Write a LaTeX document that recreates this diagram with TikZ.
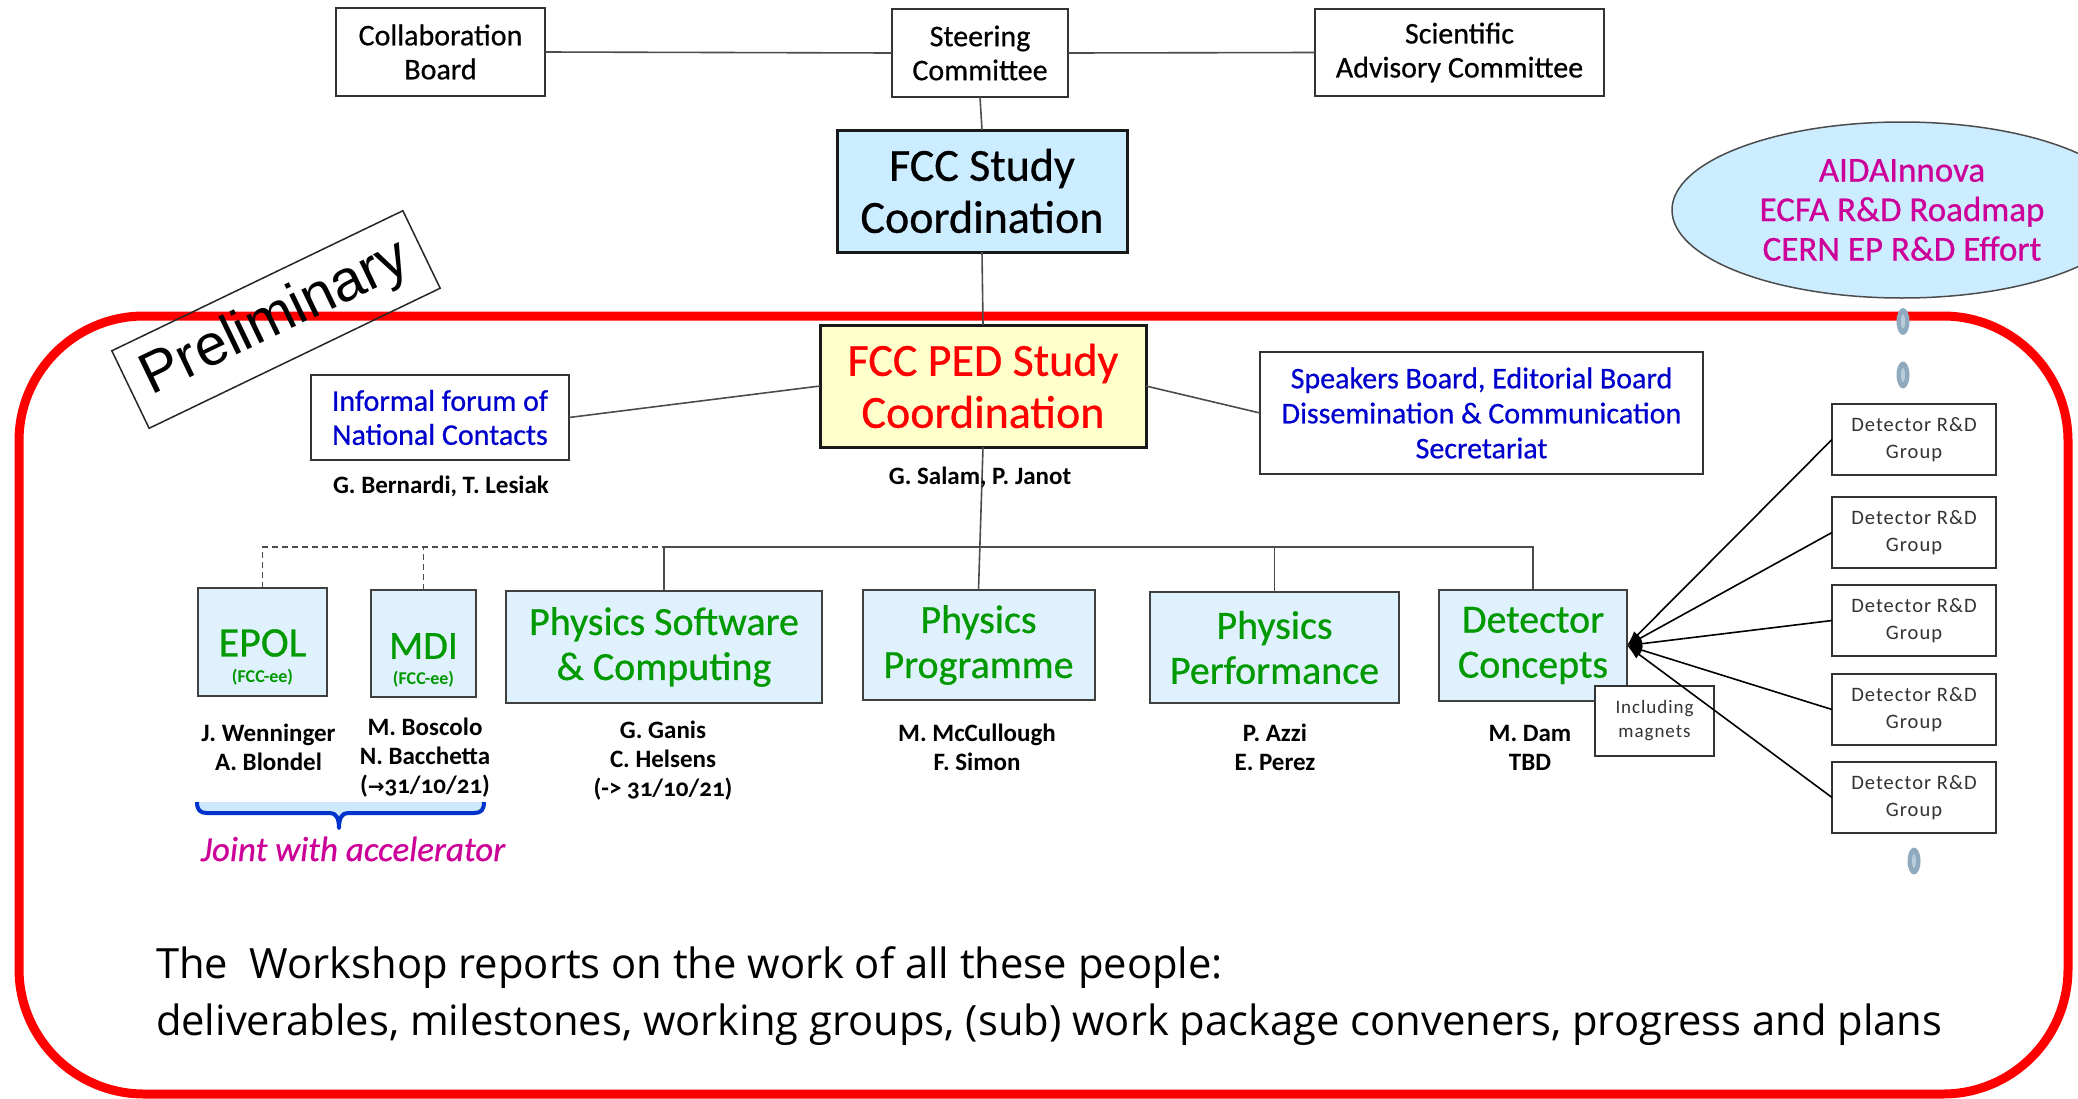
\documentclass[tikz,border=0pt]{standalone}
\usepackage{fontspec}
\setmainfont{Carlito}
\newfontfamily\heavy[FakeBold=0.6]{Carlito}
\newfontfamily\opensans{Open Sans}
\newfontfamily\arialfont{Liberation Sans}
\newfontfamily\arrowfont{DejaVu Sans}
\newfontfamily\spacedfont[LetterSpace=5]{Carlito}
\newfontfamily\oldnumfont[Numbers=OldStyle]{Carlito}
\usetikzlibrary{arrows.meta,shapes.geometric}
\newcommand\fsz[2]{\fontsize{#1}{#2}\selectfont}

\definecolor{txtgreen}{RGB}{0,153,0}
\definecolor{txtblue}{RGB}{0,0,204}
\definecolor{txtmag}{RGB}{204,0,153}
\definecolor{braceblue}{RGB}{0,51,204}
\definecolor{bracefill}{RGB}{204,232,250}
\definecolor{studyfill}{RGB}{204,236,255}
\definecolor{unitfill}{RGB}{222,241,253}
\definecolor{pedfill}{RGB}{255,255,204}
\definecolor{dotgrey}{RGB}{143,170,191}
\definecolor{dotlight}{RGB}{185,204,218}

\begin{document}
\begin{tikzpicture}[x=1pt,y=-1pt,
  every node/.style={inner sep=0pt, outer sep=0pt},
  plainbox/.style={draw=black!80, line width=2pt, fill=white, align=center},
  topbox/.style={plainbox, font=\heavy\fsz{30}{34}},
  coordbox/.style={draw=black!90, line width=3pt, align=center, font=\heavy\fsz{46}{52}},
  unitbox/.style={draw=black!75, line width=2pt, fill=unitfill, align=center, text=txtgreen, font=\heavy\fsz{40}{45}},
  rdbox/.style={plainbox, minimum width=164pt, minimum height=71pt, text=black!80, font=\spacedfont\fsz{20.5}{27}},
  names/.style={align=center, font=\bfseries\fsz{25}{29}},
  conn/.style={draw=black!70, line width=1.6pt},
  dashconn/.style={conn, dash pattern=on 6pt off 4pt},
  arr/.style={draw=black, line width=1.6pt, -{Latex[length=15pt,width=10pt]}},
]
\useasboundingbox (0,0) rectangle (2078,1098);
\clip (0,0) rectangle (2078,1098);

% outer frame of the PED study
\draw[red, line width=9pt, rounded corners=125pt] (19,316) rectangle (2068,1094);

% governance tier
\node[topbox, minimum width=209pt, minimum height=88pt] (collab) at (440.5,52) {Collaboration\\Board};
\node[topbox, minimum width=176pt, minimum height=88pt] (steer) at (980,53) {Steering\\Committee};
\node[topbox, minimum width=289pt, minimum height=87pt] (sac) at (1459.5,52.5) {Scientific\\Advisory Committee};
\node[coordbox, fill=studyfill, minimum width=290pt, minimum height=122pt] (fcc) at (982,191) {FCC Study\\Coordination};

% R&D programmes bubble
\node[ellipse, draw=black!70, line width=1.5pt, fill=studyfill, minimum width=460pt, minimum height=176pt,
      text=txtmag, align=center, font=\heavy\fsz{35}{39.5}] (aida) at (1902,210) {AIDAInnova\\ECFA R\&D Roadmap\\CERN EP R\&D Effort};

% stamp
\node[draw=black!85, line width=1.5pt, rotate=25.7, minimum width=323pt, minimum height=86pt,
      font=\arialfont\fsz{58}{60}] (prelim) at (276,319.5) {Preliminary};

% PED coordination and satellites
\node[coordbox, fill=pedfill, text=red, minimum width=326pt, minimum height=122pt] (ped) at (983,386) {FCC PED Study\\Coordination};
\node[plainbox, text=txtblue, font=\heavy\fsz{30}{34}, minimum width=258pt, minimum height=85pt] (forum) at (440,417.5) {Informal forum of\\National Contacts};
\node[plainbox, text=txtblue, font=\heavy\fsz{30}{35}, minimum width=443pt, minimum height=122pt] (speak) at (1481.5,413) {Speakers Board, Editorial Board\\Dissemination \& Communication\\Secretariat};

% work units
\node[unitbox, minimum width=128.5pt, minimum height=108pt] (epol) at (262.5,642) {};
\node[unitbox, minimum width=105pt, minimum height=107pt] (mdi) at (423.5,643.5) {};
\node[unitbox, minimum width=315.5pt, minimum height=112pt] (soft) at (664,647) {Physics Software\\\& Computing};
\node[unitbox, minimum width=232pt, minimum height=110pt] (prog) at (978.5,645) {Physics\\Programme};
\node[unitbox, minimum width=248.5pt, minimum height=111pt] (perf) at (1274.5,647.5) {Physics\\Performance};
\node[unitbox, minimum width=188pt, minimum height=111pt] (det) at (1533,645.5) {Detector\\Concepts};

\node[text=txtgreen, font=\heavy\fsz{42}{45}] (epolt) at (262.5,643) {EPOL};
\node[text=txtgreen, font=\bfseries\fsz{18}{20}] (epols) at (262.5,677) {(FCC-ee)};
\node[text=txtgreen, font=\heavy\fsz{40}{45}] (mdit) at (423.5,646) {MDI};
\node[text=txtgreen, font=\bfseries\fsz{18}{20}] (mdis) at (423.5,679) {(FCC-ee)};

\node[plainbox, font=\spacedfont\fsz{19}{24}, text=black!80, minimum width=119pt, minimum height=70pt] (mag) at (1654.5,721) {Including\\magnets};

% detector R&D groups
\foreach \i/\yy in {1/439.5,2/532.5,3/620.5,4/709.5,5/797.5}
  \node[rdbox] (rd\i) at (1914,\yy) {Detector R\&D\\Group};

% connectors
\coordinate (bus) at (0,547);
\draw[conn] (collab.east) -- (steer.west);
\draw[conn] (steer.east) -- (sac.west);
\draw[conn] (steer.south) -- (fcc.north);
\draw[conn] (fcc.south) -- (ped.north);
\draw[conn] (forum.east) -- (ped.west);
\draw[conn] (ped.east) -- (speak.west);
\draw[conn] (ped.south) -- (prog.north);
\draw[conn] (soft.north) -- (soft.north |- bus) -- (det.north |- bus) -- (det.north);
\draw[conn] (perf.north) -- (perf.north |- bus);
\draw[dashconn] (epol.north) -- (epol.north |- bus) -- (soft.north |- bus);
\draw[dashconn] (mdi.north) -- (mdi.north |- bus);
\foreach \i in {1,...,5}
  \draw[arr] (rd\i.west) -- (det.east);

% vertical ellipsis marks
\foreach \xx/\yy in {1903/321.5, 1903/375, 1914/861} {
  \fill[dotgrey] (\xx,\yy) ellipse (6.5 and 13.5);
  \fill[dotlight] (\xx,\yy) ellipse (2 and 7);
}

% conveners
\node[names] (n1) at (268.5,747) {J. Wenninger\\A. Blondel};
\node[names] (n2) at (425,758) {M. Boscolo\\N. Bacchetta\\({\arrowfont\fsz{20}{29}→}{\oldnumfont 31/10/21})};
\node[names] (n3) at (663,761) {G. Ganis\\C. Helsens\\({\oldnumfont -> 31/10/21})};
\node[names] (n4) at (977,747.5) {M. McCullough\\F. Simon};
\node[names] (n5) at (1275,747.5) {P. Azzi\\E. Perez};
\node[names] (n6) at (1530,747.5) {M. Dam\\TBD};
\node[names] (n7) at (441,486.5) {G. Bernardi, T. Lesiak};
\node[names] (n8) at (980,477) {G. Salam, P. Janot};

% joint units brace
\filldraw[draw=braceblue, fill=bracefill, line width=4pt, line join=round]
  (197,802) .. controls (197,810) and (200,813) .. (207,813) -- (330,813)
  .. controls (336,813) and (339,818) .. (339,828)
  .. controls (339,818) and (342,813) .. (348,813) -- (474,813)
  .. controls (481,813) and (484,810) .. (484,802);
\node[font=\heavy\itshape\fsz{35}{38}, text=txtmag] (joint) at (353,849) {Joint with accelerator};

% closing remark
\node[anchor=base west, font=\opensans\fsz{41.7}{57}] (ws1) at (156,978) {The\ \ Workshop reports on the work of all these people:};
\node[anchor=base west, font=\opensans\fsz{41.7}{57}] (ws2) at (156,1035) {deliverables, milestones, working groups, (sub) work package conveners, progress and plans};
\end{tikzpicture}
\end{document}
